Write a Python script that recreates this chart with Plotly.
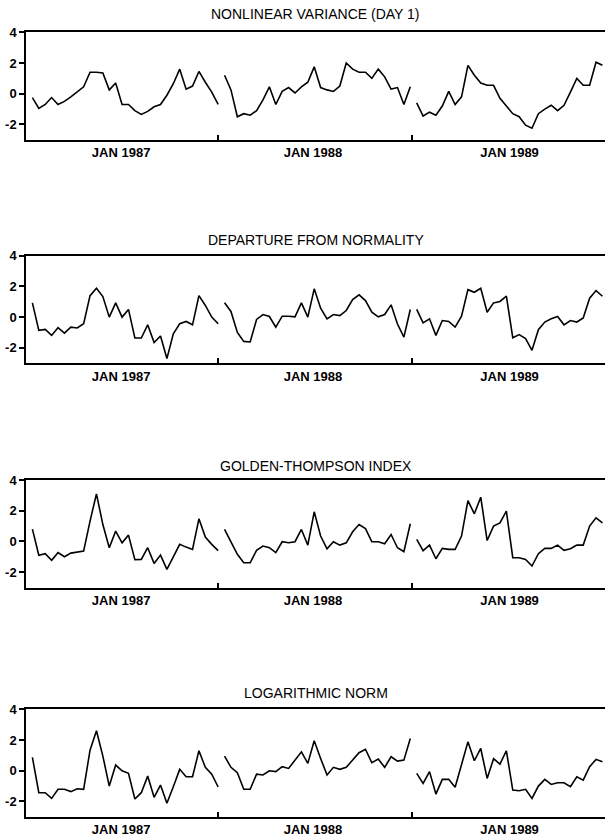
import plotly.graph_objects as go

# ---------------- data ----------------
panel_titles = ["NONLINEAR VARIANCE (DAY 1)", "DEPARTURE FROM NORMALITY",
                "GOLDEN-THOMPSON INDEX", "LOGARITHMIC NORM"]
year_labels = ["JAN 1987", "JAN 1988", "JAN 1989"]

nv_1987 = [-0.25, -0.95, -0.7, -0.25, -0.7, -0.5, -0.2, 0.15, 0.45, 1.4, 1.4, 1.35, 0.25, 0.7, -0.7,
           -0.7, -1.1, -1.35, -1.15, -0.85, -0.7, -0.1, 0.65, 1.6, 0.3, 0.5, 1.45, 0.75, 0.1, -0.7]
nv_1988 = [1.2, 0.25, -1.5, -1.3, -1.4, -1.1, -0.4, 0.45, -0.7, 0.15, 0.4, 0.05, 0.45, 0.75, 1.75,
           0.4, 0.25, 0.15, 0.5, 2.0, 1.6, 1.4, 1.4, 1.0, 1.6, 1.1, 0.3, 0.4, -0.7, 0.45]
nv_1989 = [-0.6, -1.45, -1.2, -1.4, -0.8, 0.15, -0.7, -0.2, 1.85, 1.2, 0.7, 0.55, 0.55, -0.3, -0.8,
           -1.3, -1.5, -2.05, -2.25, -1.3, -1.0, -0.75, -1.1, -0.75, 0.1, 1.0, 0.55, 0.55, 2.05, 1.85]

dn_1987 = [0.93, -0.86, -0.8, -1.19, -0.69, -1.04, -0.65, -0.71, -0.43, 1.4, 1.88, 1.34, 0.0, 0.93, 0.0,
           0.5, -1.36, -1.36, -0.5, -1.66, -1.23, -2.7, -1.08, -0.43, -0.28, -0.5, 1.4, 0.76, 0.0, -0.43]
dn_1988 = [0.93, 0.37, -1.0, -1.58, -1.62, -0.15, 0.17, 0.04, -0.65, 0.06, 0.06, 0.02, 0.93, 0.0, 1.84,
           0.58, -0.11, 0.17, 0.1, 0.43, 1.14, 1.45, 1.08, 0.32, 0.02, 0.17, 0.8, -0.45, -1.3, 0.5]
dn_1989 = [0.5, -0.37, -0.11, -1.19, -0.22, -0.28, -0.65, 0.06, 1.79, 1.62, 1.88, 0.32, 0.93, 1.02, 1.36,
           -1.34, -1.14, -1.4, -2.16, -0.82, -0.32, -0.11, 0.04, -0.5, -0.22, -0.32, -0.06, 1.23, 1.73, 1.36]

gt_1987 = [0.8, -0.9, -0.8, -1.23, -0.73, -1.0, -0.76, -0.7, -0.63, 1.32, 3.1, 1.1, -0.41, 0.67, -0.09,
           0.41, -1.19, -1.17, -0.41, -1.43, -0.89, -1.82, -0.95, -0.19, -0.37, -0.52, 1.47, 0.28, -0.19, -0.6]
gt_1988 = [0.78, -0.02, -0.84, -1.39, -1.39, -0.58, -0.3, -0.41, -0.73, -0.02, -0.09, -0.02, 0.78, -0.24, 1.93,
           0.35, -0.48, -0.02, -0.24, -0.09, 0.63, 1.1, 0.84, -0.02, -0.02, -0.15, 0.45, -0.41, -0.67, 1.15]
gt_1989 = [0.13, -0.6, -0.24, -1.13, -0.45, -0.52, -0.52, 0.35, 2.66, 1.8, 2.88, 0.06, 1.0, 1.21, 1.97,
           -1.06, -1.06, -1.17, -1.6, -0.8, -0.45, -0.45, -0.24, -0.58, -0.48, -0.24, -0.24, 1.0, 1.54, 1.21]

ln_1987 = [0.87, -1.43, -1.43, -1.8, -1.21, -1.21, -1.36, -1.17, -1.21, 1.34, 2.6, 0.95, -1.0, 0.37, 0.0,
           -0.17, -1.84, -1.43, -0.35, -1.73, -0.93, -2.12, -1.04, 0.09, -0.39, -0.39, 1.3, 0.22, -0.22, -1.06]
ln_1988 = [0.95, 0.22, -0.13, -1.21, -1.21, -0.22, -0.28, 0.0, -0.06, 0.26, 0.15, 0.69, 1.23, 0.48, 1.95,
           0.8, -0.28, 0.22, 0.09, 0.22, 0.69, 1.17, 1.39, 0.52, 0.76, 0.22, 0.91, 0.63, 0.69, 2.1]
ln_1989 = [-0.17, -0.82, -0.06, -1.52, -0.56, -0.56, -1.08, 0.37, 1.88, 0.65, 1.45, -0.5, 0.78, 0.43, 1.3,
           -1.26, -1.3, -1.21, -1.8, -1.0, -0.56, -0.89, -0.78, -0.78, -1.04, -0.39, -0.61, 0.26, 0.74, 0.58]

panel_series = [
    [nv_1987, nv_1988, nv_1989],
    [dn_1987, dn_1988, dn_1989],
    [gt_1987, gt_1988, gt_1989],
    [ln_1987, ln_1988, ln_1989],
]

y_ticks = [-2, 0, 2, 4]
y_range = [-3, 4]
x_range = [-1.0, 89.4]
year_label_pos = [13.85, 43.8, 74.5]
year_boundaries = [28.9, 59.2]

# ---------------- layout geometry (pixels) ----------------
W, H = 605, 838
panel_tops = [32.3, 255.7, 480.0, 709.3]
panel_h = 107.5
title_y = [14.5, 240.5, 465.5, 692.5]

FONT = "Liberation Sans, Arial, Helvetica, sans-serif"

fig = go.Figure()
for p, series in enumerate(panel_series):
    xa = "x" if p == 0 else f"x{p+1}"
    ya = "y" if p == 0 else f"y{p+1}"
    start = 0
    for vals in series:
        xs = list(range(start, start + len(vals)))
        start += len(vals)
        fig.add_trace(go.Scatter(x=xs, y=vals, mode="lines", xaxis=xa, yaxis=ya,
                                 line=dict(color="black", width=1.6), showlegend=False,
                                 hoverinfo="skip"))
    top = panel_tops[p]
    bot = top + panel_h
    dom = [1 - bot / H, 1 - top / H]
    xkey = "xaxis" if p == 0 else f"xaxis{p+1}"
    ykey = "yaxis" if p == 0 else f"yaxis{p+1}"
    fig.update_layout(**{
        xkey: dict(domain=[0, 1], anchor=ya, range=x_range, showgrid=False, zeroline=False,
                   showline=True, linecolor="black", linewidth=1.5, mirror=True,
                   tickmode="array", tickvals=year_label_pos,
                   ticktext=[f"<b>{t}</b>" for t in year_labels],
                   ticks="", tickfont=dict(family=FONT, size=13, color="black"),
                   minor=dict(tickmode="array", tickvals=year_boundaries, ticks="inside",
                              ticklen=5, tickwidth=1.5, tickcolor="black", showgrid=False),
                   automargin=False, fixedrange=True),
        ykey: dict(domain=dom, anchor=xa, range=y_range, showgrid=False, zeroline=False,
                   showline=True, linecolor="black", linewidth=1.5, mirror=False,
                   tickmode="array", tickvals=y_ticks,
                   ticktext=[f"<b>{v}</b>" for v in y_ticks],
                   ticks="outside", ticklen=5,
                   tickwidth=1.5, tickcolor="black",
                   tickfont=dict(family=FONT, size=13, color="black"),
                   automargin=False, fixedrange=True),
    })
    fig.add_annotation(text=panel_titles[p], xref="paper", yref="paper", x=0.5,
                       y=1 - title_y[p] / H, xanchor="center", yanchor="middle",
                       showarrow=False, font=dict(family=FONT, size=14, color="black"))

fig.update_layout(width=W, height=H, margin=dict(l=26, r=0, t=0, b=0),
                  paper_bgcolor="white", plot_bgcolor="white")

fig.write_html("out.html", config={"displayModeBar": False},
               post_script="document.body.style.margin='0';document.body.style.padding='0';"
                           "document.body.style.overflow='hidden';")
